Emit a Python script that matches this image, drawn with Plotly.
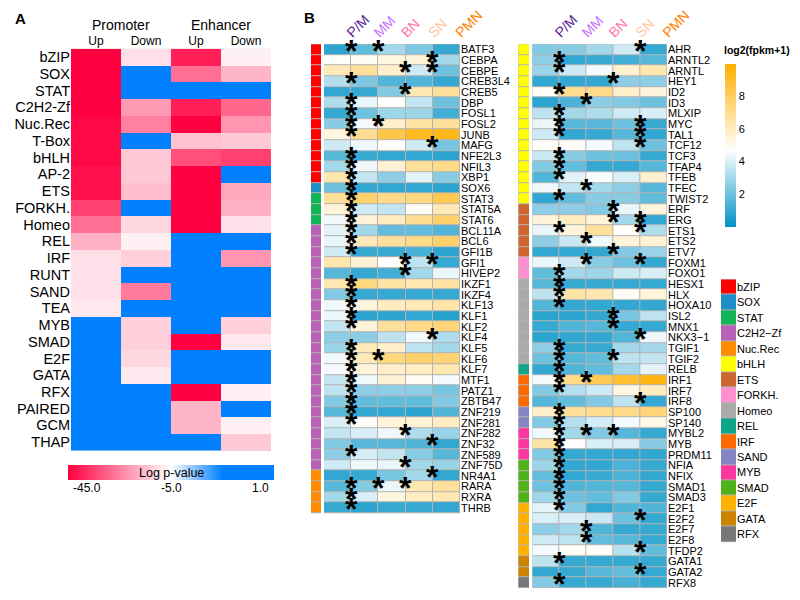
import plotly.graph_objects as go

# Target picture is 800x600; the captured page comes out ~3% wider than the window, so the
# figure is laid out on a slightly wider canvas and positions are given as fractions of 800.
REF_W, REF_H = 800, 600
W, H = 825, 600
SX = W / REF_W
FONT = "Liberation Sans, Arial, Helvetica, sans-serif"

# ---------------- Panel A data (log p-values) ----------------
A_families = ["bZIP", "SOX", "STAT", "C2H2-Zf", "Nuc.Rec", "T-Box", "bHLH", "AP-2", "ETS",
              "FORKH.", "Homeo", "REL", "IRF", "RUNT", "SAND", "TEA", "MYB", "SMAD", "E2F",
              "GATA", "RFX", "PAIRED", "GCM", "THAP"]
A_col_labels = ["Up", "Down", "Up", "Down"]
A_groups = ["Promoter", "Enhancer"]
A_promoter_up = [-45, -45, -45, -45, -43.7, -43.7, -43.7, -42.5, -42.5, -35, -27.4, -17.4,
                 -9.9, -9.9, -9.9, -8.6, 1, 1, 1, 1, 1, 1, 1, 1]
A_promoter_down = [-9.9, 1, 1, -20.8, -25, 1, -13.6, -13.6, -15, 1, -11.2, -7.4,
                   -12.4, 1, -25.9, 1, -12.4, -12.4, -11.2, -8.6, 1, 1, 1, 1]
A_enhancer_up = [-40, -27.4, 1, -40, -45, -14.9, -32.5, -45, -45, -45, -45, 1,
                 1, 1, 1, 1, 1, -45, 1, 1, -45, -16.6, -16.6, 1]
A_enhancer_down = [-7.4, -16.6, 1, -29, -21.6, -13.6, -35, 1, -18.6, -17.4, -9.9, 1,
                   -21.6, 1, 1, 1, -12.4, -8.6, 1, 1, -7.4, 1, -7.4, -13.6]
A_cbar_ticks = ["-45.0", "-5.0", "1.0"]

# ---------------- Panel B data (log2(fpkm+1)) ----------------
B_columns = ["P/M", "MM", "BN", "SN", "PMN"]
B_column_colors = ["#5a1d9a", "#c774ff", "#ff7aa6", "#ffc6a0", "#ff8000"]

family_names = ["bZIP", "SOX", "STAT", "C2H2−Zf", "Nuc.Rec", "bHLH", "ETS", "FORKH.", "Homeo",
                "REL", "IRF", "SAND", "MYB", "SMAD", "E2F", "GATA", "RFX"]
family_colors = ["#ff0000", "#1b8fc6", "#12b656", "#b862b5", "#ff8c00", "#ffff00", "#cd6530",
                 "#ff8fcf", "#aaaaaa", "#10a58a", "#ff6a00", "#8585c4", "#ff35a0", "#4eb21a",
                 "#ffb300", "#cc8400", "#777777"]

left_genes = ["BATF3", "CEBPA", "CEBPE", "CREB3L4", "CREB5", "DBP", "FOSL1", "FOSL2", "JUNB",
              "MAFG", "NFE2L3", "NFIL3", "XBP1", "SOX6", "STAT3", "STAT5A", "STAT6", "BCL11A",
              "BCL6", "GFI1B", "GFI1", "HIVEP2", "IKZF1", "IKZF4", "KLF13", "KLF1", "KLF2",
              "KLF4", "KLF5", "KLF6", "KLF7", "MTF1", "PATZ1", "ZBTB47", "ZNF219", "ZNF281",
              "ZNF282", "ZNF32", "ZNF589", "ZNF75D", "NR4A1", "RARA", "RXRA", "THRB"]
left_family = ["bZIP", "bZIP", "bZIP", "bZIP", "bZIP", "bZIP", "bZIP", "bZIP", "bZIP", "bZIP",
               "bZIP", "bZIP", "bZIP", "SOX", "STAT", "STAT", "STAT",
               "C2H2−Zf", "C2H2−Zf", "C2H2−Zf", "C2H2−Zf", "C2H2−Zf", "C2H2−Zf", "C2H2−Zf",
               "C2H2−Zf", "C2H2−Zf", "C2H2−Zf", "C2H2−Zf", "C2H2−Zf", "C2H2−Zf", "C2H2−Zf",
               "C2H2−Zf", "C2H2−Zf", "C2H2−Zf", "C2H2−Zf", "C2H2−Zf", "C2H2−Zf", "C2H2−Zf",
               "C2H2−Zf", "C2H2−Zf", "Nuc.Rec", "Nuc.Rec", "Nuc.Rec", "Nuc.Rec"]
left_values = [
    [0.8, 1.8, 3.0, 2.3, 1.0],   # BATF3
    [4.8, 4.9, 5.3, 5.5, 3.0],   # CEBPA
    [6.2, 6.8, 5.8, 3.8, 2.0],   # CEBPE
    [3.3, 2.3, 1.5, 1.5, 1.0],   # CREB3L4
    [0.9, 1.0, 2.4, 6.3, 6.8],   # CREB5
    [3.2, 4.3, 4.8, 3.6, 2.0],   # DBP
    [1.0, 2.0, 2.9, 2.9, 1.2],   # FOSL1
    [2.5, 4.5, 5.8, 6.6, 6.8],   # FOSL2
    [5.3, 7.0, 8.5, 9.3, 9.5],   # JUNB
    [3.8, 4.4, 4.8, 3.8, 2.2],   # MAFG
    [1.6, 1.0, 0.9, 0.9, 0.8],   # NFE2L3
    [3.0, 4.4, 5.6, 6.8, 7.2],   # NFIL3
    [6.3, 3.6, 2.6, 4.2, 2.5],   # XBP1
    [2.0, 0.9, 0.9, 0.9, 0.8],   # SOX6
    [6.8, 7.8, 7.2, 7.3, 8.3],   # STAT3
    [5.5, 3.8, 3.6, 4.9, 6.2],   # STAT5A
    [4.4, 5.5, 6.0, 7.0, 7.8],   # STAT6
    [4.2, 3.0, 1.8, 1.8, 1.5],   # BCL11A
    [4.3, 6.2, 6.8, 7.2, 7.8],   # BCL6
    [3.8, 1.0, 1.0, 1.3, 0.8],   # GFI1B
    [6.4, 5.6, 4.7, 3.5, 1.0],   # GFI1
    [1.6, 1.0, 1.2, 3.0, 4.3],   # HIVEP2
    [6.3, 7.4, 6.6, 6.3, 6.6],   # IKZF1
    [2.4, 1.0, 1.0, 1.0, 1.0],   # IKZF4
    [4.4, 5.4, 6.0, 6.2, 6.5],   # KLF13
    [4.3, 0.8, 0.8, 0.9, 0.7],   # KLF1
    [3.6, 5.5, 6.8, 7.2, 7.5],   # KLF2
    [2.6, 2.6, 3.5, 4.4, 3.2],   # KLF4
    [2.8, 6.2, 5.8, 3.5, 3.0],   # KLF5
    [4.4, 6.2, 7.4, 7.8, 7.6],   # KLF6
    [4.5, 5.5, 5.8, 6.0, 6.3],   # KLF7
    [3.6, 4.4, 5.6, 4.9, 4.5],   # MTF1
    [3.5, 2.6, 2.6, 2.6, 2.2],   # PATZ1
    [2.4, 1.8, 1.8, 1.8, 2.4],   # ZBTB47
    [1.6, 0.9, 0.9, 0.8, 1.5],   # ZNF219
    [4.0, 4.8, 5.5, 5.6, 6.0],   # ZNF281
    [3.6, 4.0, 4.4, 3.2, 2.8],   # ZNF282
    [2.4, 1.6, 1.6, 1.5, 0.9],   # ZNF32
    [2.6, 3.9, 3.6, 2.5, 1.6],   # ZNF589
    [3.8, 4.4, 4.3, 3.0, 2.8],   # ZNF75D
    [0.9, 1.0, 2.2, 3.0, 0.9],   # NR4A1
    [1.6, 2.4, 4.3, 6.3, 6.8],   # RARA
    [3.0, 4.0, 5.3, 6.0, 6.3],   # RXRA
    [1.0, 0.8, 1.0, 1.0, 0.9],   # THRB
]
left_stars = [["P/M", "MM"], ["SN"], ["BN", "SN"], ["P/M"], ["BN"], ["P/M"], ["P/M"],
              ["P/M", "MM"], ["P/M"], ["SN"], ["P/M"], ["P/M"], ["P/M"], ["P/M"], ["P/M"],
              ["P/M"], ["P/M"], ["P/M"], ["P/M"], ["P/M"], ["BN", "SN"], ["BN"], ["P/M"],
              ["P/M"], ["P/M"], ["P/M"], ["P/M"], ["SN"], ["P/M"], ["P/M", "MM"], ["P/M"],
              ["P/M"], ["P/M"], ["P/M"], ["P/M"], ["P/M"], ["BN"], ["SN"], ["P/M"], ["BN"],
              ["SN"], ["P/M", "MM", "BN"], ["P/M"], ["P/M"]]

right_genes = ["AHR", "ARNTL2", "ARNTL", "HEY1", "ID2", "ID3", "MLXIP", "MYC", "TAL1", "TCF12",
               "TCF3", "TFAP4", "TFEB", "TFEC", "TWIST2", "ERF", "ERG", "ETS1", "ETS2", "ETV7",
               "FOXM1", "FOXO1", "HESX1", "HLX", "HOXA10", "ISL2", "MNX1", "NKX3−1", "TGIF1",
               "TGIF2", "RELB", "IRF1", "IRF7", "IRF8", "SP100", "SP140", "MYBL2", "MYB",
               "PRDM11", "NFIA", "NFIX", "SMAD1", "SMAD3", "E2F1", "E2F2", "E2F7", "E2F8",
               "TFDP2", "GATA1", "GATA2", "RFX8"]
right_family = ["bHLH", "bHLH", "bHLH", "bHLH", "bHLH", "bHLH", "bHLH", "bHLH", "bHLH", "bHLH",
                "bHLH", "bHLH", "bHLH", "bHLH", "bHLH", "ETS", "ETS", "ETS", "ETS", "ETS",
                "FORKH.", "FORKH.", "Homeo", "Homeo", "Homeo", "Homeo", "Homeo", "Homeo",
                "Homeo", "Homeo", "REL", "IRF", "IRF", "IRF", "SAND", "SAND", "MYB", "MYB",
                "MYB", "SMAD", "SMAD", "SMAD", "SMAD", "E2F", "E2F", "E2F", "E2F", "E2F",
                "GATA", "GATA", "RFX"]
right_values = [
    [2.4, 2.5, 3.0, 3.8, 1.0],   # AHR
    [2.6, 0.9, 1.0, 1.2, 1.6],   # ARNTL2
    [2.8, 3.8, 4.5, 5.7, 6.3],   # ARNTL
    [0.9, 0.9, 0.9, 2.6, 2.6],   # HEY1
    [4.8, 7.0, 7.2, 5.8, 5.4],   # ID2
    [0.8, 1.4, 2.6, 2.4, 2.0],   # ID3
    [3.5, 3.0, 3.2, 3.8, 4.0],   # MLXIP
    [4.3, 1.6, 1.6, 2.0, 1.0],   # MYC
    [3.8, 0.9, 1.0, 1.6, 0.9],   # TAL1
    [4.8, 4.8, 4.5, 3.5, 2.0],   # TCF12
    [3.7, 2.5, 2.0, 2.0, 1.0],   # TCF3
    [2.4, 1.8, 1.0, 1.0, 1.6],   # TFAP4
    [1.5, 4.2, 4.6, 4.0, 5.7],   # TFEB
    [4.4, 3.6, 3.0, 2.6, 1.6],   # TFEC
    [0.9, 1.8, 2.5, 2.5, 1.8],   # TWIST2
    [2.6, 2.6, 2.4, 4.3, 5.4],   # ERF
    [5.5, 6.0, 5.5, 3.0, 0.9],   # ERG
    [4.3, 5.5, 6.8, 4.8, 3.2],   # ETS1
    [2.6, 3.7, 4.4, 5.5, 5.6],   # ETS2
    [0.9, 0.9, 0.9, 2.4, 2.8],   # ETV7
    [4.3, 3.8, 2.5, 2.0, 1.0],   # FOXM1
    [1.8, 3.0, 2.9, 3.8, 4.0],   # FOXO1
    [1.6, 1.0, 1.0, 1.0, 1.0],   # HESX1
    [3.5, 6.5, 6.3, 4.9, 5.4],   # HLX
    [1.5, 0.9, 0.9, 0.9, 0.9],   # HOXA10
    [0.8, 0.8, 0.9, 2.2, 3.5],   # ISL2
    [1.0, 1.5, 1.6, 1.0, 1.0],   # MNX1
    [0.8, 0.9, 0.9, 1.5, 4.4],   # NKX3-1
    [2.6, 1.0, 1.0, 3.0, 3.0],   # TGIF1
    [2.0, 1.6, 1.8, 3.5, 3.6],   # TGIF2
    [1.0, 1.5, 1.8, 3.0, 4.2],   # RELB
    [4.5, 7.2, 8.3, 9.0, 9.6],   # IRF1
    [2.4, 3.3, 3.8, 5.3, 6.0],   # IRF7
    [1.6, 1.8, 2.4, 3.5, 1.0],   # IRF8
    [5.8, 6.8, 7.0, 7.2, 7.5],   # SP100
    [2.4, 3.3, 3.9, 4.5, 5.2],   # SP140
    [4.4, 3.0, 2.4, 1.6, 1.0],   # MYBL2
    [6.6, 4.8, 4.0, 4.0, 2.5],   # MYB
    [2.4, 1.0, 0.9, 0.9, 0.9],   # PRDM11
    [2.9, 0.9, 0.9, 1.4, 1.0],   # NFIA
    [1.8, 0.9, 1.0, 1.4, 0.9],   # NFIX
    [2.0, 1.5, 1.5, 1.6, 1.0],   # SMAD1
    [2.9, 2.0, 1.8, 2.4, 1.0],   # SMAD3
    [4.2, 2.4, 0.9, 1.5, 1.5],   # E2F1
    [4.0, 4.0, 3.7, 2.0, 1.0],   # E2F2
    [2.6, 3.0, 1.5, 1.0, 1.0],   # E2F7
    [3.8, 3.5, 1.8, 1.6, 1.0],   # E2F8
    [4.5, 4.9, 4.8, 3.4, 1.8],   # TFDP2
    [3.5, 1.0, 1.0, 1.0, 1.0],   # GATA1
    [0.9, 1.0, 1.6, 1.8, 1.0],   # GATA2
    [2.4, 1.0, 1.0, 1.3, 1.0],   # RFX8
]
right_stars = [["SN"], ["P/M"], ["P/M"], ["BN"], ["P/M"], ["MM"], ["P/M"], ["P/M", "SN"],
               ["P/M", "SN"], ["SN"], ["P/M"], ["P/M"], ["P/M"], ["MM"], ["P/M"], ["BN"],
               ["BN", "SN"], ["P/M", "SN"], ["MM"], ["BN"], ["MM", "SN"], ["P/M"], ["P/M"],
               ["P/M"], ["P/M"], ["BN"], ["BN"], ["SN"], ["P/M"], ["P/M", "BN"], ["P/M"],
               ["P/M", "MM"], ["P/M"], ["SN"], ["P/M"], ["P/M"], ["P/M", "MM", "BN"], ["P/M"],
               ["P/M"], ["P/M"], ["P/M"], ["P/M"], ["P/M"], ["P/M"], ["SN"], ["MM"], ["MM"],
               ["SN"], ["P/M"], ["SN"], ["P/M"]]
B_cbar_ticks = [2, 4, 6, 8]


# ---------------- helpers (reference pixel -> paper fraction) ----------------
def fx(p):
    return p / REF_W


def fy(p):
    return 1 - p / REF_H


def logp_to_pos(v):
    # colour-bar position: -45 -> 0, -5 -> 0.5, 1 -> 1
    if v <= -5:
        return 0.5 * (v + 45) / 40
    return 0.5 + 0.5 * (v + 5) / 6


A_colorscale = [[0, "#ff0040"], [0.5, "#ffffff"], [0.75, "#0080ff"], [1, "#0080ff"]]
B_colorscale = [[0, "#0092c6"], [0.47, "#ffffff"], [1, "#ffb000"]]
nf = len(family_names)
fam_colorscale = []
for i, c in enumerate(family_colors):
    fam_colorscale.append([i / nf, c])
    fam_colorscale.append([(i + 1) / nf, c])

fig = go.Figure()

# Panel A heatmap
zA = [[logp_to_pos(v) for v in row]
      for row in zip(A_promoter_up, A_promoter_down, A_enhancer_up, A_enhancer_down)]
fig.add_trace(go.Heatmap(z=zA, x=list(range(4)), y=list(range(len(A_families))),
                         coloraxis="coloraxis", xaxis="x", yaxis="y", hoverinfo="skip"))

# Panel B: family strips and heatmaps
fig.add_trace(go.Heatmap(z=[[family_names.index(f) + 0.5] for f in left_family],
                         x=[0], y=list(range(len(left_genes))), coloraxis="coloraxis3",
                         ygap=1, xaxis="x2", yaxis="y2", hoverinfo="skip"))
fig.add_trace(go.Heatmap(z=left_values, x=list(range(5)), y=list(range(len(left_genes))),
                         coloraxis="coloraxis2", xgap=1, ygap=1, xaxis="x3", yaxis="y3"))
fig.add_trace(go.Heatmap(z=[[family_names.index(f) + 0.5] for f in right_family],
                         x=[0], y=list(range(len(right_genes))), coloraxis="coloraxis3",
                         ygap=1, xaxis="x4", yaxis="y4", hoverinfo="skip"))
fig.add_trace(go.Heatmap(z=right_values, x=list(range(5)), y=list(range(len(right_genes))),
                         coloraxis="coloraxis2", xgap=1, ygap=1, xaxis="x5", yaxis="y5"))
# family legend
fig.add_trace(go.Heatmap(z=[[i + 0.5] for i in range(nf)], x=[0], y=list(range(nf)),
                         coloraxis="coloraxis3", ygap=1, xaxis="x6", yaxis="y6",
                         hoverinfo="skip"))

annotations = []
star_font = dict(size=32, color="black", family=FONT)
for stars_list, xr, yr in [(left_stars, "x3", "y3"), (right_stars, "x5", "y5")]:
    for ri, stars in enumerate(stars_list):
        for s in stars:
            annotations.append(dict(x=B_columns.index(s) + 0.5, y=ri, xref=xr, yref=yr,
                                    text="<b>*</b>", showarrow=False, font=star_font,
                                    xanchor="center", yanchor="middle", yshift=-1.5))


def paper_text(txt, px, py, size, xanchor="center", xref="paper", xval=None):
    return dict(x=fx(px) if xval is None else xval, y=fy(py), xref=xref, yref="paper",
                text=txt, showarrow=False, xanchor=xanchor, yanchor="middle",
                font=dict(size=size, family=FONT, color="black"))


annotations.append(paper_text("<b>A</b>", 13, 18, 15, xanchor="left"))
annotations.append(paper_text("<b>B</b>", 302, 17, 15, xanchor="left"))
for gi, g in enumerate(A_groups):
    annotations.append(paper_text(g, 0, 24, 14, xref="x", xval=2 * gi + 0.5))
annotations.append(paper_text("Log p-value", 171, 473.5, 12.5))
for t, xa, px in zip(A_cbar_ticks, ["left", "center", "right"], [71, 171, 271]):
    annotations.append(paper_text(t, px, 489, 12, xanchor=xa))
annotations.append(paper_text("<b>log2(fpkm+1)</b>", 757, 49, 10.5))

noax = dict(showgrid=False, zeroline=False, showline=False, ticks="")
yA = (fy(451), fy(48))
yL = (fy(514), fy(43.3))
yR = (fy(589), fy(43.3))
head_text = ['<span style="color:%s">%s</span>' % (c, n) for n, c in zip(B_columns, B_column_colors)]

fig.update_layout(
    width=W, height=H, margin=dict(l=0, r=0, t=0, b=0),
    paper_bgcolor="white", plot_bgcolor="#b3b3b3",
    font=dict(family=FONT, color="black"),
    showlegend=False,
    coloraxis=dict(colorscale=A_colorscale, cmin=0, cmax=1,
                   colorbar=dict(orientation="h", x=fx(171), xanchor="center",
                                 y=fy(466), yanchor="top", len=200 * SX, lenmode="pixels",
                                 thickness=15, xpad=0, ypad=0, outlinewidth=0,
                                 showticklabels=False, ticks="")),
    coloraxis2=dict(colorscale=B_colorscale, cmin=0, cmax=10,
                    colorbar=dict(x=fx(725), xanchor="left", y=fy(144.5), yanchor="middle",
                                  len=163, lenmode="pixels", thickness=11 * SX, xpad=0, ypad=0,
                                  outlinewidth=0, tickvals=B_cbar_ticks, ticks="",
                                  tickfont=dict(size=11, family=FONT, color="black"))),
    coloraxis3=dict(colorscale=fam_colorscale, cmin=0, cmax=nf, showscale=False),
    xaxis=dict(domain=[fx(71), fx(271)], range=[-0.5, 3.5], side="top", anchor="y",
               tickvals=list(range(4)), ticktext=A_col_labels,
               tickfont=dict(size=12), **noax),
    yaxis=dict(domain=list(yA), range=[len(A_families) - 0.5, -0.5], anchor="x",
               tickvals=list(range(len(A_families))), ticktext=A_families,
               tickfont=dict(size=14.5), **noax),
    xaxis2=dict(domain=[fx(311), fx(321)], range=[-0.5, 0.5], anchor="y2",
                showticklabels=False, **noax),
    yaxis2=dict(domain=list(yL), range=[len(left_genes) - 0.5, -0.5], anchor="x2",
                showticklabels=False, **noax),
    xaxis3=dict(domain=[fx(324), fx(460)], range=[-0.5, 4.5], side="top", anchor="y3",
                tickvals=list(range(5)), ticktext=head_text, tickangle=-45,
                ticklabelshift=10, tickfont=dict(size=14), **noax),
    yaxis3=dict(domain=list(yL), range=[len(left_genes) - 0.5, -0.5], anchor="x3",
                side="right", tickvals=list(range(len(left_genes))), ticktext=left_genes,
                tickfont=dict(size=11), **noax),
    xaxis4=dict(domain=[fx(518.3), fx(529)], range=[-0.5, 0.5], anchor="y4",
                showticklabels=False, **noax),
    yaxis4=dict(domain=list(yR), range=[len(right_genes) - 0.5, -0.5], anchor="x4",
                showticklabels=False, **noax),
    xaxis5=dict(domain=[fx(532.3), fx(667)], range=[-0.5, 4.5], side="top", anchor="y5",
                tickvals=list(range(5)), ticktext=head_text, tickangle=-45,
                ticklabelshift=10, tickfont=dict(size=14), **noax),
    yaxis5=dict(domain=list(yR), range=[len(right_genes) - 0.5, -0.5], anchor="x5",
                side="right", tickvals=list(range(len(right_genes))), ticktext=right_genes,
                tickfont=dict(size=11), **noax),
    xaxis6=dict(domain=[fx(721), fx(736)], range=[-0.5, 0.5], anchor="y6",
                showticklabels=False, **noax),
    yaxis6=dict(domain=[fy(543), fy(279.3)], range=[nf - 0.5, -0.5], anchor="x6",
                side="right", tickvals=list(range(nf)), ticktext=family_names,
                tickfont=dict(size=11), **noax),
    annotations=annotations,
)

# drop the page's default 8px body margin so the figure starts at the window corner
fig.write_html("out.html", config={"displayModeBar": False},
               post_script="document.body.style.margin='0px';")
